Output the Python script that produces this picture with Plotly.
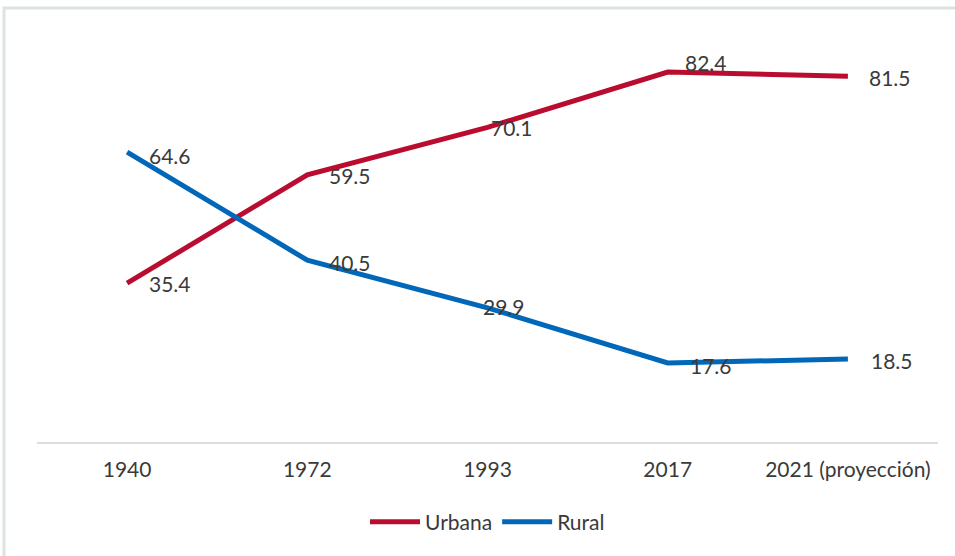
import plotly.graph_objects as go

categories = ["1940", "1972", "1993", "2017", "2021 (proyección)"]
urbana = [35.4, 59.5, 70.1, 82.4, 81.5]
rural = [64.6, 40.5, 29.9, 17.6, 18.5]

# label offsets (px) per point: (xshift, yshift)
urb_off = [(43, 0), (43, -1), (24, 0), (38, 10), (42, -1)]
rur_off = [(43, -3), (43, -2), (16, 1), (43, -2), (44, -2)]

RED = "#BA0C2F"
BLUE = "#0067B9"
TXT = "#3a3a3a"
FONT = "Lato, sans-serif"

fig = go.Figure()
fig.add_trace(go.Scatter(x=categories, y=urbana, mode="lines", name="Urbana",
                         line=dict(color=RED, width=5)))
fig.add_trace(go.Scatter(x=categories, y=rural, mode="lines", name="Rural",
                         line=dict(color=BLUE, width=5)))

ann = []
for vals, offs in ((urbana, urb_off), (rural, rur_off)):
    for i, (v, (dx, dy)) in enumerate(zip(vals, offs)):
        ann.append(dict(x=i, y=v, xref="x", yref="y", text=f"{v:.1f}", showarrow=False,
                        xshift=dx, yshift=dy, font=dict(size=21, color=TXT, family=FONT)))

fig.update_layout(
    width=955, height=556,
    margin=dict(l=37, r=17, t=38, b=114),
    paper_bgcolor="white", plot_bgcolor="white",
    font=dict(family=FONT, color=TXT, size=21),
    xaxis=dict(type="category", categoryorder="array", categoryarray=categories,
               range=[-0.5, 4.5],
               showgrid=False, showline=True, linecolor="#d9dfd9", linewidth=2,
               ticks="", tickfont=dict(size=21, color=TXT), ticklabelstandoff=8),
    yaxis=dict(range=[0, 90], visible=False),
    legend=dict(orientation="h", x=0.5, xanchor="center", y=-0.198, yanchor="middle",
                font=dict(size=21, color=TXT), tracegroupgap=0, itemwidth=50),
    annotations=ann,
    shapes=[dict(type="rect", xref="paper", yref="paper", x0=-0.0366, x1=1.2,
                 y0=-0.5, y1=1.074, line=dict(color="#dde3dd", width=3), layer="below")],
    showlegend=True,
)
fig.write_html("out.html", config={"displayModeBar": False},
               post_script="document.body.style.margin='0px';")
